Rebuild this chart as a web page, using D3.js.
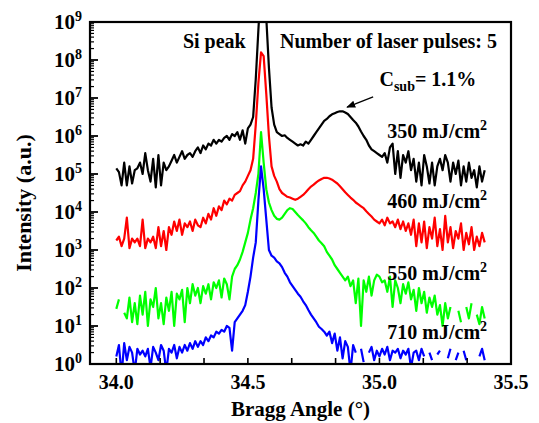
<!DOCTYPE html>
<html><head><meta charset="utf-8">
<script src="https://cdn.jsdelivr.net/npm/d3@7"></script>
<style>
html,body{margin:0;padding:0;background:#fff;}
svg text{font-family:"Liberation Serif","Times New Roman",serif;font-weight:bold;fill:#000;}
</style></head>
<body><svg id="c" width="539" height="423"></svg>
<script>
// Bragg angle grid (degrees): 34.00 .. 35.40, step 0.01
const angleStart = 34.0, angleStep = 0.01, nPoints = 141;
// log10 of intensity (a.u.), one value per grid angle; null = no data (non-positive counts)
const log350 = [5.15,5.05,4.7,5.3,4.7,5.2,4.75,5.1,5.15,5.3,5.0,5.55,5.1,4.8,5.4,4.65,5.5,4.7,5.3,5.1,5.2,
5.35,5.5,5.3,5.45,5.6,5.4,5.5,5.55,5.45,5.6,5.7,5.55,5.75,5.65,5.8,5.75,5.9,5.8,5.9,5.85,5.95,6.0,5.9,6.05,6.0,
6.1,5.9,6.15,5.8,6.2,6.3,
6.5,7.5,8.8,10,10.3,9.1,7.8,6.75,6.3,6.1,
6.05,6.0,6.02,5.95,5.9,5.85,5.8,5.75,5.78,5.75,5.85,5.8,5.9,6.0,6.1,6.2,6.3,6.4,6.45,6.52,6.57,6.6,6.63,6.65,6.65,6.62,6.58,6.5,6.42,6.35,6.25,6.12,6.0,5.9,5.75,5.65,5.6,5.55,
5.5,5.45,5.55,5.3,5.7,5.8,5.0,5.6,4.9,5.5,5.3,5.6,5.1,5.4,4.8,5.3,4.7,5.5,5.2,4.75,5.3,4.7,5.2,5.4,5.1,5.5,5.3,4.8,5.3,5.0,5.35,4.7,5.2,4.8,5.3,4.9,5.1,4.65,5.2,4.8,5.1];
const log460 = [3.25,3.35,3.1,3.3,3.85,3.05,3.3,3.2,3.3,3.1,3.8,3.05,3.3,3.2,3.35,3.05,3.6,3.1,3.5,3.0,3.6,
3.4,3.75,3.5,3.8,3.4,3.7,3.6,3.75,3.5,3.8,3.65,3.6,3.85,3.7,3.95,3.8,4.1,3.9,4.15,4.05,4.3,4.2,4.35,4.3,4.45,4.5,4.55,4.7,4.8,4.95,
5.1,5.4,6.3,7.4,8.2,8.1,7.1,6.0,5.2,4.95,4.8,4.6,4.5,4.45,4.4,4.38,4.35,4.32,4.35,4.4,4.45,4.52,4.6,4.67,4.72,4.78,4.83,4.87,4.9,4.9,4.88,4.85,4.8,4.75,4.68,4.6,4.52,4.45,4.38,4.32,4.25,4.2,4.15,4.1,4.02,3.95,3.88,3.8,3.75,
3.7,3.8,3.65,3.85,3.7,3.75,3.6,3.8,3.55,3.75,3.5,3.7,3.4,3.8,3.1,3.7,3.2,3.75,3.05,3.6,3.3,3.85,3.1,3.55,3.0,3.9,3.2,3.6,3.05,3.5,3.3,3.7,3.0,3.45,3.15,3.6,3.0,3.35,3.1,3.45,3.2];
const log550 = [1.45,1.7,null,1.35,1.2,1.75,1.1,1.6,1.05,1.8,1.3,1.9,1.0,1.7,1.5,2.0,1.2,1.6,1.05,1.75,1.4,1.9,1.0,1.85,1.7,1.95,1.1,2.0,1.6,2.1,
1.8,2.0,1.6,2.05,1.85,2.1,1.7,2.15,2.0,2.2,1.75,2.25,2.1,1.7,2.3,2.5,2.6,2.75,2.95,3.2,
3.45,3.8,4.1,4.5,5.0,6.1,5.3,4.6,4.25,4.05,3.9,3.82,3.8,3.85,3.95,4.05,4.1,4.08,4.0,3.92,3.85,3.78,3.7,3.6,3.52,3.45,3.35,3.25,3.18,3.1,2.95,2.85,2.75,2.6,2.5,2.4,2.3,2.2,
2.3,2.05,2.2,1.6,2.25,1.0,2.2,1.9,2.3,1.8,2.2,2.35,
2.3,2.15,2.2,1.9,2.3,1.5,2.2,2.0,1.6,2.1,1.85,2.15,1.7,1.95,1.4,2.0,1.6,1.9,1.35,1.75,1.5,1.8,1.3,1.55,1.0,1.6,1.2,1.5,null,null,1.4,1.1,null,1.5,1.2,1.6,null,1.3,1.05,1.5,1.2];
const log710 = [0.2,0.5,-0.3,0.55,0.1,0.45,0.3,-0.2,0.4,0.25,0.35,0.2,0.4,-0.1,0.45,0.3,0.1,0.5,0.35,-0.2,0.4,0.3,0.5,0.15,
0.45,0.3,0.5,0.35,0.55,0.4,0.6,0.45,0.6,0.5,0.7,0.6,0.75,0.7,0.85,0.8,0.9,0.85,1.0,0.95,0.35,1.1,1.2,1.3,1.4,1.55,1.9,2.3,2.8,3.2,4.3,5.2,
4.6,3.8,3.0,2.85,2.8,2.7,2.65,2.55,2.4,2.3,2.15,2.05,1.95,1.85,1.77,1.65,1.55,1.42,1.3,1.2,1.1,0.98,0.92,0.85,0.75,0.85,0.55,0.8,0.35,
0.7,0.15,0.6,0.45,-0.2,0.5,0.3,null,0.4,0.05,null,0.3,0.45,0.1,0.35,0.2,0.4,0.25,0.45,0.1,0.35,0.3,0.4,0.15,0.35,0.25,0.4,-0.1,0.3,0.35,0.1,0.4,0.2,null,0.3,0.1,null,0.25,0.35,null,null,0.15,0.4,null,0.1,0.3,null,0.35,0.1,null,null,0.3,null,0.2,0.4,0.1];

const seriesNames = ["350 mJ/cm", "460 mJ/cm", "550 mJ/cm", "710 mJ/cm"];
const seriesColors = ["#000000", "#ff0000", "#00ff00", "#0000ff"];
const seriesLogs = [log350, log460, log550, log710];
// label anchors [angle, log10 intensity of baseline]
const labelPos = [[35.03, 5.95], [35.03, 4.1], [35.03, 2.2], [35.03, 0.66]];

const xTicks = [34.0, 34.5, 35.0, 35.5];
const yExponents = [0,1,2,3,4,5,6,7,8,9];

const W = 539, H = 423;
const m = {l: 90, t: 22, r: 28, b: 59};
const pw = W - m.l - m.r, ph = H - m.t - m.b;

const svg = d3.select("#c");
const g = svg.append("g").attr("transform", `translate(${m.l},${m.t})`);

const x = d3.scaleLinear().domain([33.9, 35.5]).range([0, pw]);
const y = d3.scaleLog().domain([1, 1e9]).range([ph, 0]);

const angles = d3.range(nPoints).map(i => +(angleStart + i * angleStep).toFixed(2));

svg.append("defs").append("clipPath").attr("id", "clip")
  .append("rect").attr("width", pw).attr("height", ph);
const defs = svg.select("defs");
defs.append("marker").attr("id", "arr").attr("viewBox", "0 0 10 10").attr("refX", 9).attr("refY", 5)
  .attr("markerWidth", 9).attr("markerHeight", 9).attr("orient", "auto").attr("markerUnits", "userSpaceOnUse")
  .append("path").attr("d", "M0,1 L10,5 L0,9 Z").attr("fill", "#000");

const line = d3.line()
  .defined(d => d.v !== null)
  .x(d => x(d.a))
  .y(d => y(Math.pow(10, d.v)));

const plot = g.append("g").attr("clip-path", "url(#clip)");
seriesLogs.forEach((arr, k) => {
  const data = angles.map((a, i) => ({a, v: arr[i]}));
  plot.append("path").datum(data)
    .attr("d", line).attr("fill", "none")
    .attr("stroke", seriesColors[k]).attr("stroke-width", 2.2).attr("stroke-linejoin", "round");
});

// frame
g.append("rect").attr("width", pw).attr("height", ph).attr("fill", "none").attr("stroke", "#000").attr("stroke-width", 2.2);

// x ticks (inward), every 1/6 degree
const xt = d3.range(0, 10).map(i => 34.0 + i / 6).filter(v => v <= 35.5 + 1e-9);
g.selectAll(".xt").data(xt).enter().append("line")
  .attr("x1", d => x(d)).attr("x2", d => x(d)).attr("y1", ph).attr("y2", ph - 6)
  .attr("stroke", "#000").attr("stroke-width", 1.6);
g.selectAll(".xl").data(xTicks).enter().append("text")
  .attr("x", d => x(d)).attr("y", ph + 25).attr("text-anchor", "middle")
  .attr("font-size", 20).text(d => d.toFixed(1));

// y ticks (inward), major and minor
const minor = [];
yExponents.slice(0, -1).forEach(e => { for (let k = 2; k <= 9; k++) minor.push(k * Math.pow(10, e)); });
g.selectAll(".ym").data(minor).enter().append("line")
  .attr("x1", 0).attr("x2", 4).attr("y1", d => y(d)).attr("y2", d => y(d))
  .attr("stroke", "#000").attr("stroke-width", 1.2);
g.selectAll(".yM").data(yExponents).enter().append("line")
  .attr("x1", 0).attr("x2", 8).attr("y1", d => y(Math.pow(10, d))).attr("y2", d => y(Math.pow(10, d)))
  .attr("stroke", "#000").attr("stroke-width", 1.8);
const yl = g.selectAll(".yl").data(yExponents).enter().append("text")
  .attr("x", -8).attr("y", d => y(Math.pow(10, d)) + 7).attr("text-anchor", "end").attr("font-size", 21);
yl.append("tspan").text("10");
yl.append("tspan").attr("dy", -8).attr("font-size", 14).text(d => d);

// axis titles
svg.append("text").attr("x", m.l + pw / 2 + 0).attr("y", H - 7).attr("text-anchor", "middle")
  .attr("font-size", 21).text("Bragg Angle (°)");
svg.append("text").attr("transform", `translate(31,${m.t + ph / 2 + 10}) rotate(-90)`)
  .attr("text-anchor", "middle").attr("font-size", 22).text("Intensity (a.u.)");

// annotations
g.append("text").attr("x", x(34.253)).attr("y", y(Math.pow(10, 8.32))).attr("font-size", 20).text("Si peak");
g.append("text").attr("x", x(34.622)).attr("y", y(Math.pow(10, 8.32))).attr("font-size", 20).text("Number of laser pulses: 5");
const cs = g.append("text").attr("x", x(35.0)).attr("y", y(Math.pow(10, 7.32))).attr("font-size", 20);
cs.append("tspan").text("C");
cs.append("tspan").attr("dy", 5).attr("font-size", 14).text("sub");
cs.append("tspan").attr("dy", -5).text("= 1.1%");
g.append("line")
  .attr("x1", x(34.976)).attr("y1", y(Math.pow(10, 7.03)))
  .attr("x2", x(34.877)).attr("y2", y(Math.pow(10, 6.76)))
  .attr("stroke", "#000").attr("stroke-width", 1.3).attr("marker-end", "url(#arr)");

seriesNames.forEach((n, k) => {
  const t = g.append("text").attr("x", x(labelPos[k][0])).attr("y", y(Math.pow(10, labelPos[k][1]))).attr("font-size", 20);
  t.append("tspan").text(n);
  t.append("tspan").attr("dy", -8).attr("font-size", 14).text("2");
});
</script></body></html>
